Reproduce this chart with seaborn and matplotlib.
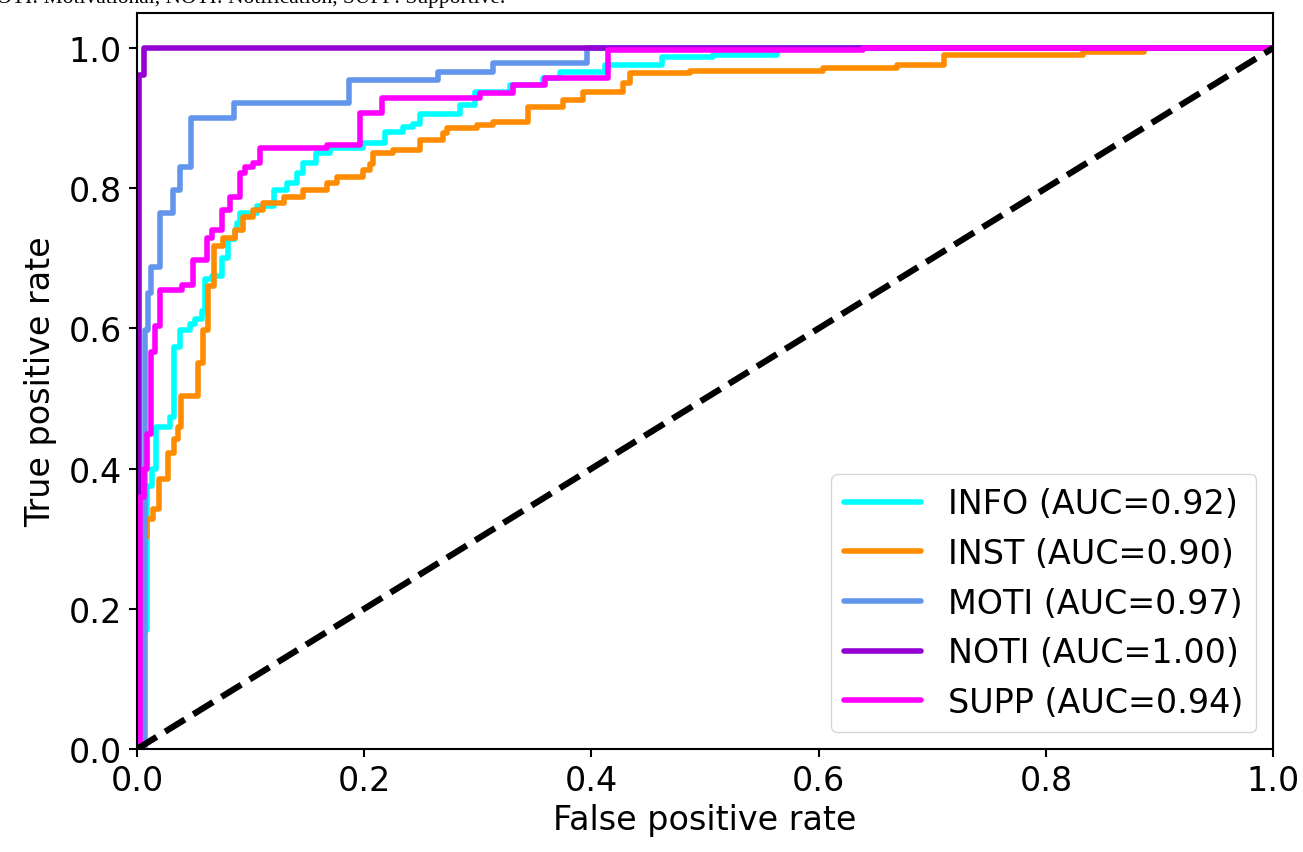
import numpy as np
import pandas as pd
import seaborn as sns
import matplotlib
matplotlib.use("Agg")
import matplotlib.pyplot as plt

# ROC corner points (step curves)
info_fpr = [0.0, 0.004, 0.004, 0.009, 0.009, 0.013, 0.013, 0.017, 0.017, 0.029, 0.029, 0.033, 0.033,
            0.038, 0.038, 0.047, 0.047, 0.051, 0.051, 0.057, 0.057, 0.060, 0.060, 0.066, 0.066,
            0.075, 0.075, 0.080, 0.080, 0.086, 0.086, 0.088, 0.088, 0.091, 0.091, 0.106, 0.106,
            0.121, 0.121, 0.132, 0.132, 0.141, 0.141, 0.146, 0.146, 0.158, 0.158, 0.170, 0.170,
            0.199, 0.199, 0.218, 0.218, 0.234, 0.234, 0.243, 0.243, 0.249, 0.249, 0.284, 0.284,
            0.298, 0.298, 0.328, 0.328, 0.357, 0.357, 0.372, 0.372, 0.412, 0.412, 0.462, 0.462,
            0.507, 0.507, 0.563, 0.563, 1.0]
info_tpr = [0.0, 0.0, 0.17, 0.17, 0.375, 0.375, 0.40, 0.40, 0.459, 0.459, 0.474, 0.474, 0.574,
            0.574, 0.598, 0.598, 0.606, 0.606, 0.613, 0.613, 0.625, 0.625, 0.670, 0.670, 0.675,
            0.675, 0.700, 0.700, 0.727, 0.727, 0.741, 0.741, 0.750, 0.750, 0.765, 0.765, 0.774,
            0.774, 0.798, 0.798, 0.808, 0.808, 0.822, 0.822, 0.836, 0.836, 0.850, 0.850, 0.858,
            0.858, 0.865, 0.865, 0.880, 0.880, 0.887, 0.887, 0.891, 0.891, 0.906, 0.906, 0.919,
            0.919, 0.937, 0.937, 0.947, 0.947, 0.957, 0.957, 0.966, 0.966, 0.976, 0.976, 0.987,
            0.987, 0.990, 0.990, 1.0, 1.0]

inst_fpr = [0.0, 0.006, 0.006, 0.009, 0.009, 0.014, 0.014, 0.019, 0.019, 0.027, 0.027, 0.033, 0.033,
            0.036, 0.036, 0.039, 0.039, 0.054, 0.054, 0.058, 0.058, 0.0625, 0.0625, 0.068, 0.068,
            0.076, 0.076, 0.086, 0.086, 0.093, 0.093, 0.102, 0.102, 0.111, 0.111, 0.129, 0.129,
            0.146, 0.146, 0.167, 0.167, 0.176, 0.176, 0.199, 0.199, 0.205, 0.205, 0.208, 0.208,
            0.225, 0.225, 0.249, 0.249, 0.269, 0.269, 0.273, 0.273, 0.299, 0.299, 0.313, 0.313,
            0.344, 0.344, 0.375, 0.375, 0.393, 0.393, 0.428, 0.428, 0.434, 0.434, 0.487, 0.487,
            0.604, 0.604, 0.669, 0.669, 0.710, 0.710, 0.833, 0.833, 0.886, 0.886, 1.0]
inst_tpr = [0.0, 0.0, 0.303, 0.303, 0.328, 0.328, 0.342, 0.342, 0.385, 0.385, 0.423, 0.423, 0.442,
            0.442, 0.460, 0.460, 0.503, 0.503, 0.551, 0.551, 0.598, 0.598, 0.660, 0.660, 0.717,
            0.717, 0.729, 0.729, 0.741, 0.741, 0.759, 0.759, 0.769, 0.769, 0.779, 0.779, 0.788,
            0.788, 0.798, 0.798, 0.808, 0.808, 0.816, 0.816, 0.826, 0.826, 0.835, 0.835, 0.850,
            0.850, 0.855, 0.855, 0.869, 0.869, 0.879, 0.879, 0.886, 0.886, 0.890, 0.890, 0.895,
            0.895, 0.916, 0.916, 0.926, 0.926, 0.937, 0.937, 0.950, 0.950, 0.964, 0.964, 0.967,
            0.967, 0.972, 0.972, 0.976, 0.976, 0.990, 0.990, 0.994, 0.994, 1.0, 1.0]

moti_fpr = [0.0, 0.007, 0.007, 0.0097, 0.0097, 0.012, 0.012, 0.020, 0.020, 0.032, 0.032, 0.038, 0.038,
            0.048, 0.048, 0.085, 0.085, 0.187, 0.187, 0.265, 0.265, 0.313, 0.313, 0.396, 0.396, 1.0]
moti_tpr = [0.0, 0.0, 0.598, 0.598, 0.651, 0.651, 0.688, 0.688, 0.765, 0.765, 0.798, 0.798, 0.830,
            0.830, 0.900, 0.900, 0.922, 0.922, 0.954, 0.954, 0.966, 0.966, 0.979, 0.979, 1.0, 1.0]

noti_fpr = [0.0, 0.002, 0.002, 0.006, 0.006, 1.0]
noti_tpr = [0.0, 0.0, 0.962, 0.962, 1.0, 1.0]

supp_fpr = [0.0, 0.003, 0.003, 0.006, 0.006, 0.009, 0.009, 0.012, 0.012, 0.016, 0.016, 0.020, 0.020,
            0.040, 0.040, 0.049, 0.049, 0.062, 0.062, 0.066, 0.066, 0.075, 0.075, 0.082, 0.082,
            0.091, 0.091, 0.095, 0.095, 0.102, 0.102, 0.108, 0.108, 0.167, 0.167, 0.196, 0.196,
            0.216, 0.216, 0.302, 0.302, 0.331, 0.331, 0.359, 0.359, 0.415, 0.415, 0.639, 0.639, 1.0]
supp_tpr = [0.0, 0.0, 0.360, 0.360, 0.40, 0.40, 0.45, 0.45, 0.566, 0.566, 0.603, 0.603, 0.655,
            0.655, 0.662, 0.662, 0.698, 0.698, 0.729, 0.729, 0.741, 0.741, 0.769, 0.769, 0.788,
            0.788, 0.822, 0.822, 0.830, 0.830, 0.836, 0.836, 0.858, 0.858, 0.862, 0.862, 0.907,
            0.907, 0.929, 0.929, 0.936, 0.936, 0.947, 0.947, 0.957, 0.957, 0.997, 0.997, 1.0, 1.0]

classes = ["INFO", "INST", "MOTI", "NOTI", "SUPP"]
aucs = [0.92, 0.90, 0.97, 1.00, 0.94]
colors = ["aqua", "darkorange", "cornflowerblue", "darkviolet", "magenta"]

curves = [(info_fpr, info_tpr), (inst_fpr, inst_tpr), (moti_fpr, moti_tpr),
          (noti_fpr, noti_tpr), (supp_fpr, supp_tpr)]

frames = []
for name, auc, (fpr, tpr) in zip(classes, aucs, curves):
    label = "{} (AUC={:.2f})".format(name, auc)
    frames.append(pd.DataFrame({"fpr": fpr, "tpr": tpr, "label": label}))
df = pd.concat(frames, ignore_index=True)
labels = df["label"].unique().tolist()
palette = dict(zip(labels, colors))

sns.set_style("ticks")
plt.rcParams["font.family"] = ["DejaVu Sans"]
plt.rcParams["axes.linewidth"] = 1.5
plt.rcParams["text.color"] = "black"
plt.rcParams["axes.labelcolor"] = "black"
plt.rcParams["xtick.color"] = "black"
plt.rcParams["ytick.color"] = "black"

fig = plt.figure(figsize=(13.03, 8.53), dpi=100)
ax = fig.add_axes([0.1051, 0.1207, 0.8719, 0.8629])

sns.lineplot(data=df, x="fpr", y="tpr", hue="label", palette=palette, hue_order=labels,
             sort=False, estimator=None, lw=4, ax=ax)
ax.plot([0, 1], [0, 1], "k--", lw=4.5)

ax.set_xlim([0.0, 1.0])
ax.set_ylim([0.0, 1.05])
ax.set_xticks([0.0, 0.2, 0.4, 0.6, 0.8, 1.0])
ax.set_yticks([0.0, 0.2, 0.4, 0.6, 0.8, 1.0])
ax.tick_params(labelsize=24, length=6, width=1.5, direction="out", pad=5)
ax.set_xlabel("False positive rate", fontsize=24, labelpad=4)
ax.set_ylabel("True positive rate", fontsize=24, labelpad=8)
for sp in ax.spines.values():
    sp.set_visible(True)
    sp.set_color("black")

leg = ax.legend(loc="lower right", fontsize=24, handlelength=2.3, frameon=True,
                labelspacing=0.5, borderaxespad=0.5)
leg.get_frame().set_edgecolor("#cccccc")

# caption fragment cut off at the top of the picture
fig.text(505 / 1303, 1 - 3 / 853,
         "INST: Instructional, MOTI: Motivational, NOTI: Notification, SUPP: Supportive.",
         ha="right", va="baseline", fontsize=15.5, family=["Liberation Serif"])

fig.savefig("out.png", dpi=100)
